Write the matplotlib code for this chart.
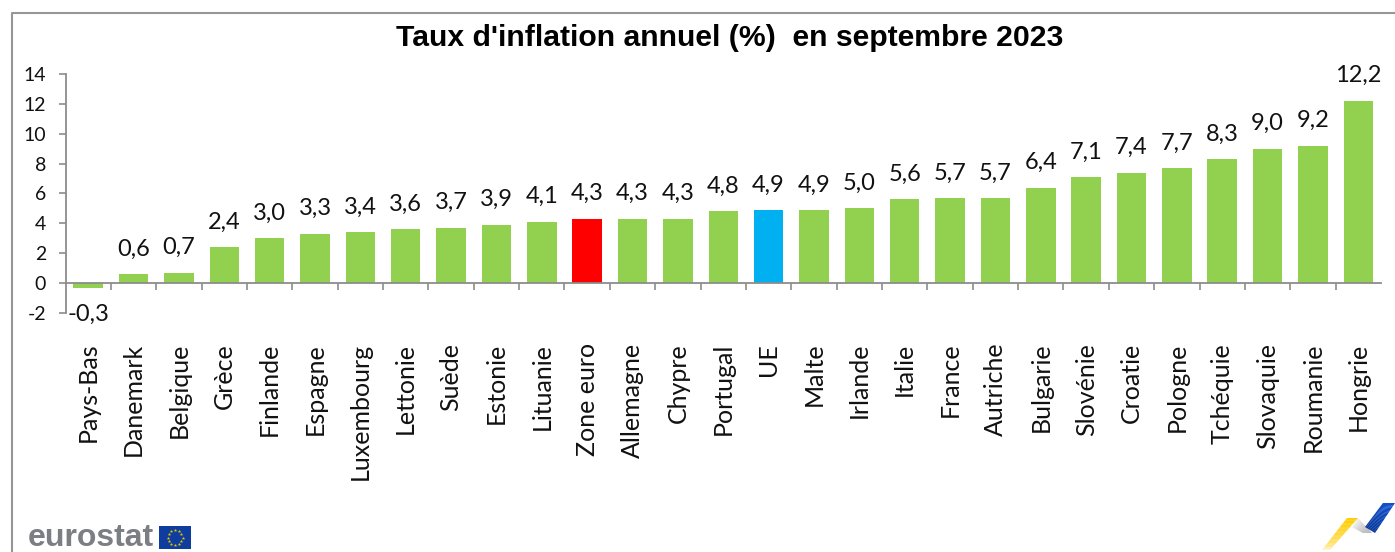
import numpy as np
import matplotlib
matplotlib.use("Agg")
import matplotlib.pyplot as plt
from matplotlib.patches import Polygon, Rectangle
from matplotlib.lines import Line2D
from matplotlib.transforms import Affine2D

categories = ["Pays-Bas", "Danemark", "Belgique", "Grèce", "Finlande", "Espagne", "Luxembourg",
              "Lettonie", "Suède", "Estonie", "Lituanie", "Zone euro", "Allemagne", "Chypre",
              "Portugal", "UE", "Malte", "Irlande", "Italie", "France", "Autriche", "Bulgarie",
              "Slovénie", "Croatie", "Pologne", "Tchéquie", "Slovaquie", "Roumanie", "Hongrie"]
values = [-0.3, 0.6, 0.7, 2.4, 3.0, 3.3, 3.4, 3.6, 3.7, 3.9, 4.1, 4.3, 4.3, 4.3, 4.8, 4.9, 4.9,
          5.0, 5.6, 5.7, 5.7, 6.4, 7.1, 7.4, 7.7, 8.3, 9.0, 9.2, 12.2]
highlight = {"Zone euro": "#FF0000", "UE": "#00B0F0"}
y_ticks = [-2, 0, 2, 4, 6, 8, 10, 12, 14]
title = "Taux d'inflation annuel (%)  en septembre 2023"

W, H = 1395, 552
GREEN = "#92D050"
GREY = "#8C8C8C"
BODY = ["Lato", "Open Sans", "DejaVu Sans"]

fig = plt.figure(figsize=(W / 100, H / 100), dpi=100)
px = Affine2D().scale(1, -1).translate(0, H)  # pixel coords, y down

L, R, T, B = 65.5, 1381, 74, 313
ax = fig.add_axes([L / W, 1 - B / H, (R - L) / W, (B - T) / H])
x = np.arange(len(categories))
colors = [highlight.get(c, GREEN) for c in categories]
ax.bar(x, values, width=0.65, color=colors, zorder=2)
ax.set_xlim(-0.5, len(categories) - 0.5)
ax.set_ylim(-2, 14)

for s in ("top", "right"):
    ax.spines[s].set_visible(False)
ax.spines["bottom"].set_position(("data", 0))
for s in ("left", "bottom"):
    ax.spines[s].set_color(GREY)
    ax.spines[s].set_linewidth(1.3)

ax.set_yticks(y_ticks)
ax.set_yticklabels([str(v) for v in y_ticks], fontsize=14, family=BODY, color="#111111")
ax.tick_params(axis="y", length=5, width=1.2, color=GREY, pad=9)
ax.set_xticks(x)
ax.set_xticklabels(categories, rotation=90, fontsize=18, family=BODY, color="#111111", ha="center", va="top")
ax.tick_params(axis="x", which="major", length=0, pad=43)
ax.set_xticks(x[:-1] + 0.5, minor=True)
ax.tick_params(axis="x", which="minor", length=5, width=1.2, color=GREY)

for xi, v in zip(x, values):
    lab = f"{v:.1f}".replace(".", ",")
    ax.annotate(lab, (xi, max(v, 0) if v >= 0 else v), xytext=(0, 10.5 if v >= 0 else -12),
                textcoords="offset points", ha="center", va="bottom" if v >= 0 else "top",
                fontsize=17, family=BODY, color="#111111")

fig.text(730 / W, 1 - 37.5 / H, title, ha="center", va="center", fontsize=21.7, fontweight="bold",
         family="Liberation Sans", color="black")

# chart frame
fig.add_artist(Line2D([11.5, 11.5, W], [H, 12.5, 12.5], transform=px, color="#969696", lw=1.5))

# eurostat logo
fig.text(28 / W, 1 - 545.5 / H, "eurostat", ha="left", va="baseline", fontsize=23, fontweight="bold",
         family="Liberation Sans", color="#7B7E83")
fig.add_artist(Rectangle((159, 526), 32, 23, transform=px, facecolor="#0F3D9E", edgecolor="none"))
ang = np.linspace(0, 2 * np.pi, 12, endpoint=False)
fig.add_artist(Line2D(175 + 7.5 * np.cos(ang), 537.5 + 7.5 * np.sin(ang), transform=px, ls="none",
                      marker="*", ms=2.6, color="#E8C400", mew=0))

# ribbon mark
def band(p0, p1, q0, q1, c0, c1, gamma=1.0, n=24):
    p0, p1, q0, q1 = map(np.array, (p0, p1, q0, q1))
    c0, c1 = np.array(matplotlib.colors.to_rgb(c0)), np.array(matplotlib.colors.to_rgb(c1))
    for i in range(n):
        a, b = i / n, min((i + 1.15) / n, 1)
        pts = [p0 + (p1 - p0) * a, p0 + (p1 - p0) * b, q0 + (q1 - q0) * b, q0 + (q1 - q0) * a]
        t = ((i + .5) / n) ** gamma
        fig.add_artist(Polygon(pts, closed=True, transform=px, facecolor=c0 + (c1 - c0) * t,
                               edgecolor="none"))

band((1322, 550), (1347, 518), (1330, 550), (1358, 518), "#FFFFFF", "#FFCC00", gamma=0.4)
band((1352, 527), (1363, 533), (1358, 518), (1372, 533), "#F0F0F0", "#A8A8A8")
band((1365, 527), (1383, 503), (1375, 533), (1395, 503), "#0A3A9A", "#0F50D0")

fig.savefig("out.png", dpi=100)
